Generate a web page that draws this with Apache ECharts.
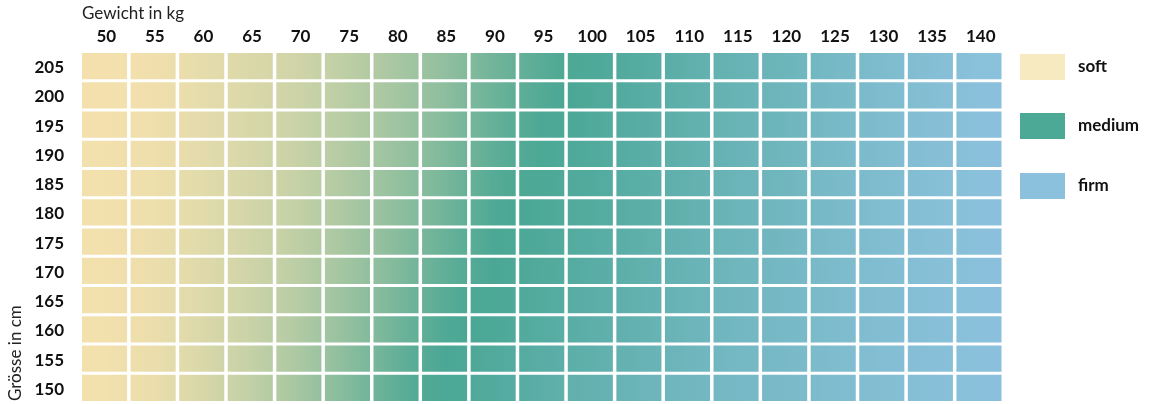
<!DOCTYPE html>
<html>
<head>
<meta charset="utf-8">
<script src="https://cdn.jsdelivr.net/npm/echarts@6/dist/echarts.min.js"></script>
<style>
html,body{margin:0;padding:0;background:#fff;}
#chart{width:1150px;height:404px;}
</style>
</head>
<body>
<div id="chart"></div>
<script>
// Weight categories (x axis, kg) and height categories (y axis, cm)
const weights = ['50','55','60','65','70','75','80','85','90','95','100','105','110','115','120','125','130','135','140'];
const heights = ['150','155','160','165','170','175','180','185','190','195','200','205'];

// Firmness score read per cell: 0 = soft, 1 = medium, 2 = firm
const r205 = [0.01,0.03,0.09,0.16,0.22,0.33,0.45,0.58,0.77,0.91,1.06,1.17,1.32,1.45,1.53,1.68,1.79,1.89,1.99];
const r200 = [0.01,0.03,0.09,0.16,0.24,0.35,0.47,0.61,0.80,0.95,1.07,1.19,1.33,1.46,1.55,1.69,1.80,1.89,1.98];
const r195 = [0.01,0.04,0.10,0.17,0.26,0.37,0.50,0.65,0.84,0.99,1.09,1.21,1.34,1.47,1.56,1.70,1.81,1.90,1.98];
const r190 = [0.02,0.04,0.10,0.18,0.27,0.39,0.53,0.69,0.88,1.02,1.11,1.23,1.36,1.48,1.57,1.71,1.81,1.90,1.98];
const r185 = [0.02,0.04,0.11,0.19,0.28,0.41,0.56,0.73,0.93,1.04,1.13,1.25,1.38,1.50,1.59,1.72,1.82,1.91,1.98];
const r180 = [0.02,0.04,0.11,0.20,0.30,0.43,0.59,0.77,0.97,1.06,1.14,1.25,1.37,1.51,1.60,1.73,1.83,1.91,1.98];
const r175 = [0.02,0.05,0.12,0.21,0.32,0.46,0.63,0.82,0.99,1.08,1.19,1.31,1.43,1.54,1.63,1.75,1.84,1.92,1.98];
const r170 = [0.02,0.05,0.13,0.22,0.34,0.49,0.67,0.87,1.01,1.10,1.22,1.34,1.46,1.57,1.65,1.76,1.85,1.92,1.98];
const r165 = [0.02,0.05,0.14,0.24,0.37,0.53,0.72,0.92,1.03,1.14,1.26,1.37,1.49,1.59,1.67,1.78,1.86,1.93,1.98];
const r160 = [0.02,0.05,0.15,0.26,0.40,0.57,0.77,0.97,1.05,1.18,1.29,1.40,1.52,1.62,1.69,1.79,1.86,1.93,1.98];
const r155 = [0.02,0.06,0.16,0.28,0.43,0.62,0.84,1.01,1.10,1.23,1.33,1.44,1.55,1.65,1.71,1.80,1.87,1.93,1.98];
const r150 = [0.02,0.06,0.17,0.30,0.47,0.66,0.88,1.03,1.13,1.28,1.40,1.50,1.60,1.68,1.74,1.82,1.88,1.93,1.98];

// Legend entries
const legendLabels = ['soft','medium','firm'];

// Colours
const SOFT = [245,225,173], MEDIUM = [74,167,148], FIRM = [139,193,220];
const legendColors = ['#f7e9c0','#4ca996','#8bc1dc'];

const rowsByHeight = [r150,r155,r160,r165,r170,r175,r180,r185,r190,r195,r200,r205];
const data = [];
rowsByHeight.forEach((row, yi) => row.forEach((v, xi) => data.push([xi, yi, v])));

function mix(a, b, t) {
  return 'rgb(' + a.map((c, i) => Math.round(c + (b[i] - c) * t)).join(',') + ')';
}
function scoreColor(s) {
  s = Math.max(0, Math.min(2, s));
  return s <= 1 ? mix(SOFT, MEDIUM, s) : mix(MEDIUM, FIRM, s - 1);
}

const chart = echarts.init(document.getElementById('chart'), null, {renderer: 'canvas'});

const FONT = 'Lato, "Noto Sans", sans-serif';

const option = {
  animation: false,
  backgroundColor: '#fff',
  grid: {left: 82, top: 53, width: 923, height: 353, containLabel: false},
  xAxis: {
    type: 'category',
    position: 'top',
    data: weights,
    axisLine: {show: false},
    axisTick: {show: false},
    splitLine: {show: false},
    axisLabel: {color: '#111', fontFamily: FONT, fontWeight: 'bold', fontSize: 17, margin: 8}
  },
  yAxis: {
    type: 'category',
    data: heights,
    axisLine: {show: false},
    axisTick: {show: false},
    splitLine: {show: false},
    axisLabel: {color: '#111', fontFamily: FONT, fontWeight: 'bold', fontSize: 17, margin: 18, align: 'right'}
  },
  graphic: [
    {type: 'text', x: 82, y: 14, style: {text: 'Gewicht in kg', fill: '#222', font: '17px ' + FONT, textAlign: 'left', textVerticalAlign: 'middle'}},
    {type: 'text', x: 16, y: 401, rotation: Math.PI / 2, style: {text: 'Grösse in cm', fill: '#222', font: '17px ' + FONT, textAlign: 'left', textVerticalAlign: 'middle'}},
  ].concat(legendLabels.flatMap((lab, i) => {
    const top = [54, 113, 173][i];
    return [
      {type: 'rect', shape: {x: 1020, y: top, width: 45, height: 26}, style: {fill: legendColors[i]}},
      {type: 'text', x: 1078, y: top + 13, style: {text: lab, fill: '#111', font: 'bold 17px ' + FONT, textAlign: 'left', textVerticalAlign: 'middle'}}
    ];
  })),
  series: [{
    type: 'custom',
    data: data,
    encode: {x: 0, y: 1},
    renderItem: function (params, api) {
      const xi = api.value(0), yi = api.value(1), v = api.value(2);
      const row = rowsByHeight[yi];
      const prev = xi > 0 ? row[xi - 1] : v;
      const next = xi < row.length - 1 ? row[xi + 1] : v;
      const c = api.coord([xi, yi]);
      const s = api.size([1, 1]);
      const x0 = c[0] - s[0] / 2, y0 = c[1] - s[1] / 2;
      const stops = [
        {offset: 0, color: scoreColor((prev + v) / 2)},
        {offset: 0.5, color: scoreColor(v)},
        {offset: 1, color: scoreColor((v + next) / 2)}
      ];
      return {
        type: 'rect',
        shape: {x: x0, y: y0, width: s[0] - 3.5, height: s[1] - 3},
        style: {fill: new echarts.graphic.LinearGradient(0, 0, 1, 0, stops)}
      };
    }
  }]
};
chart.setOption(option);
</script>
</body>
</html>
